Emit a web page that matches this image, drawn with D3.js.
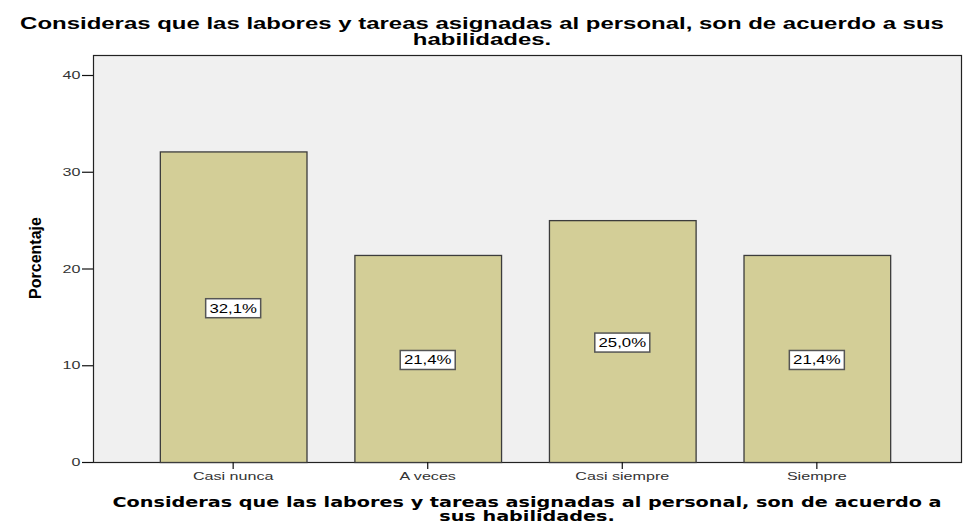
<!DOCTYPE html>
<html><head><meta charset="utf-8">
<script src="https://cdn.jsdelivr.net/npm/d3@7"></script>
<style>body{margin:0;background:#fff}</style>
</head><body>
<svg id="c" width="964" height="524"></svg>
<script>
const categories = ["Casi nunca", "A veces", "Casi siempre", "Siempre"];
const values = [32.1, 21.4, 25.0, 21.4];
const valueLabels = ["32,1%", "21,4%", "25,0%", "21,4%"];
const yTicks = [0, 10, 20, 30, 40];
const title = ["Consideras que las labores y tareas asignadas al personal, son de acuerdo a sus", "habilidades."];
const xTitle = ["Consideras que las labores y tareas asignadas al personal, son de acuerdo a", "sus habilidades."];
const yTitle = "Porcentaje";

const SX = 1.4; // horizontal stretch of the text in the picture
const ARIAL = "Liberation Sans, Arial, sans-serif";
const svg = d3.select("#c");
const L = 93, R = 961, T = 55, B = 462;
const y = d3.scaleLinear().domain([0, 40]).range([B, 75]);
const x = d3.scaleBand().domain(categories).range([L, R])
  .paddingInner(0.2462).paddingOuter(0.3538).align(0.4855);

svg.append("rect").attr("x", L + 0.5).attr("y", T + 0.5).attr("width", R - L).attr("height", B - T)
  .attr("fill", "#f0f0f0").attr("stroke", "#222").attr("stroke-width", 1.2);

svg.selectAll(".bar").data(values).enter().append("rect")
  .attr("x", (d, i) => x(categories[i]) + 0.5)
  .attr("y", d => y(d) + 0.5)
  .attr("width", x.bandwidth())
  .attr("height", d => B - y(d))
  .attr("fill", "#d3ce97").attr("stroke", "#3c3c3c").attr("stroke-width", 1.3);

function stretch(sel, f) {
  sel.each(function () {
    const t = d3.select(this);
    const tx = +t.attr("x") || 0;
    t.attr("x", 0).attr("transform", `translate(${tx},0) scale(${f},1)`);
  });
}

// y axis
const yAxis = d3.axisLeft(y).tickValues(yTicks).tickSize(11).tickPadding(1.5);
const gy = svg.append("g").attr("transform", `translate(${L},0)`).call(yAxis);
gy.select(".domain").remove();
gy.selectAll("text").attr("font-family", ARIAL).attr("font-size", 11.5).attr("fill", "#333");
stretch(gy.selectAll("text"), SX);
gy.selectAll("line").attr("stroke", "#111").attr("stroke-width", 1.2);

// x axis
const xAxis = d3.axisBottom(x).tickSize(7).tickPadding(3);
const gx = svg.append("g").attr("transform", `translate(0,${B})`).call(xAxis);
gx.select(".domain").remove();
gx.selectAll("text").attr("font-family", ARIAL).attr("font-size", 11.5).attr("fill", "#333");
stretch(gx.selectAll("text"), SX);
gx.selectAll("line").attr("stroke", "#111").attr("stroke-width", 1.2);

// value labels
const lab = svg.selectAll(".lab").data(values).enter().append("g")
  .attr("transform", (d, i) => `translate(${x(categories[i]) + x.bandwidth() / 2},${(y(d) + B) / 2 + 1.5})`);
lab.append("rect").attr("x", -27.5).attr("y", -9.5).attr("width", 55).attr("height", 19)
  .attr("fill", "#fff").attr("stroke", "#555").attr("stroke-width", 1.5);
lab.append("text").text((d, i) => valueLabels[i]).attr("text-anchor", "middle").attr("dy", "0.36em")
  .attr("font-family", ARIAL).attr("font-size", 12).attr("fill", "#000")
  .attr("transform", `scale(${SX},1)`);

// chart title (stretched to the width it has in the picture)
const tg = svg.append("g");
const tt = tg.append("text").attr("text-anchor", "middle")
  .attr("font-family", ARIAL).attr("font-weight", "bold").attr("font-size", 17).attr("fill", "#000");
tt.selectAll("tspan").data(title).enter().append("tspan")
  .attr("x", 0).attr("y", (d, i) => 29 + i * 16).text(d => d);
const tw = tt.select("tspan").node().getComputedTextLength();
tg.attr("transform", `translate(482,0) scale(${924 / tw},1)`);

// x axis title
const xg = svg.append("g");
const xt = xg.append("text").attr("text-anchor", "middle")
  .attr("font-family", "DejaVu Sans, Verdana, sans-serif").attr("font-weight", "bold").attr("font-size", 14).attr("fill", "#000");
xt.selectAll("tspan").data(xTitle).enter().append("tspan")
  .attr("x", 0).attr("y", (d, i) => 507 + i * 14).text(d => d);
const xw = xt.select("tspan").node().getComputedTextLength();
xg.attr("transform", `translate(527,0) scale(${830 / xw},1)`);

// y axis title
svg.append("text").attr("transform", `translate(41,258) rotate(-90)`).attr("text-anchor", "middle")
  .attr("font-family", ARIAL).attr("font-weight", "bold").attr("font-size", 16).attr("fill", "#000")
  .text(yTitle);
</script>
</body></html>
